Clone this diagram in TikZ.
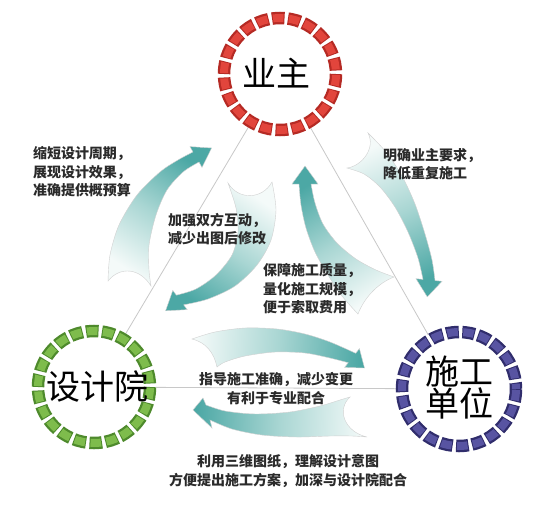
\documentclass[tikz,border=0pt]{standalone}
\usepackage{fontspec}
\newfontfamily\cjk{Noto Sans CJK SC}
\definecolor{reddark}{HTML}{B52A24}
\definecolor{redmain}{HTML}{E2453C}
\definecolor{grndark}{HTML}{4E8A2C}
\definecolor{grnmain}{HTML}{7EBC4C}
\definecolor{navdark}{HTML}{302D6C}
\definecolor{navmain}{HTML}{5854A2}
\definecolor{tailc}{HTML}{F4FAF9}
\definecolor{midc}{HTML}{A9D6D3}
\definecolor{headc}{HTML}{4CA8A5}
\definecolor{linec}{HTML}{C8C8C8}
\definecolor{txtc}{HTML}{2A2A2A}
\tikzset{
  swoosh/.style={top color=tailc, bottom color=headc, middle color=midc, draw=black!18, line width=0.4},
  linkline/.style={draw=linec, line width=0.8},
  hub/.style={circle, fill=white, minimum size=124pt, inner sep=0pt},
  ringout/.style={line width=12.5, dash pattern=on 12.5 off 3.49},
  ringin/.style={line width=8, dash pattern=on 10.5 off 5.49, dash phase=14.99},
  biglbl/.style={font=\fontsize{34}{32}\selectfont\cjk, text=black, align=center, inner sep=0pt},
  lbl/.style={font=\fontsize{14}{18.5}\selectfont\cjk\bfseries, text=txtc, inner sep=0pt},
}
\begin{document}
\begin{tikzpicture}[x=1pt,y=-1pt]
\fill[white] (0,0) rectangle (560,504);
\useasboundingbox (0,0) rectangle (560,504);
\coordinate (cY) at (280,74);
\coordinate (cS) at (94,387);
\coordinate (cG) at (459,389);

% arrows
% A: design -> owner (left outer)
\path[swoosh, shading angle=147]
  plot[smooth] coordinates {(108,281) (110,255) (119,225) (137,195) (160,172) (178,160) (193,152)}
  -- (190,146.6) -- (211.6,148) -- (202,167.4)
  -- plot[smooth] coordinates {(199,162) (183,172) (167,190) (156,215) (149,245) (149,270) (151,286)}
  .. controls (140,268) and (120,266) .. (108,281) -- cycle;
% B: owner -> design (left inner)
\path[swoosh, shading angle=326]
  plot[smooth] coordinates {(228,183) (236,208) (238,232) (232,255) (216,275) (196,289) (176.4,295.2)}
  -- (172.8,290.4) -- (165.6,310.8) -- (187.2,309.6)
  -- plot[smooth] coordinates {(183.6,304.8) (208,299) (235,286) (257,265) (271,240) (276,210) (272,182)}
  .. controls (262,200) and (238,200) .. (228,183) -- cycle;
% C: owner -> contractor (right outer)
\path[swoosh, shading angle=25]
  plot[smooth] coordinates {(368,133) (386,152) (402,176) (415,204) (425,234) (432,260) (435,280.6)}
  -- (442,281.3) -- (427.3,296.9) -- (416,278.7)
  -- plot[smooth] coordinates {(423,279.4) (418,258) (408,232) (395,207) (380,187) (364,174) (347,168)}
  .. controls (362,166) and (376,148) .. (368,133) -- cycle;
% D: contractor -> owner (right inner)
\path[swoosh, shading angle=211]
  plot[smooth] coordinates {(358,314) (342,296) (328,275) (315,252) (306,228) (301,205) (299,184)}
  -- (292,184) -- (305,166) -- (318,184)
  -- plot[smooth] coordinates {(311,184) (315,203) (323,224) (337,243) (356,259) (376,270) (394,277)}
  .. controls (378,283) and (364,298) .. (358,314) -- cycle;
% E: design -> contractor (bottom upper)
\path[swoosh, shading angle=87]
  plot[smooth] coordinates {(192,339) (215,332) (245,328) (277,329) (305,334) (330,342) (355.7,353.3)}
  -- (359.4,348.6) -- (364.5,368) -- (344.6,367.4)
  -- plot[smooth] coordinates {(348.3,362.7) (330,358) (305,353) (275,352) (245,356) (225,362) (217,367)}
  .. controls (214,352) and (205,342) .. (192,339) -- cycle;
% F: contractor -> design (bottom lower)
\path[swoosh, shading angle=268]
  (193,410) -- (203,398)
  -- plot[smooth] coordinates {(206,405) (225,411) (255,414) (290,412) (320,406) (340,400) (350,397)}
  .. controls (336,410) and (345,432) .. (367,437)
  -- plot[smooth] coordinates {(367,437) (352,436) (330,436) (297,437) (262,435) (232,429) (210,420)}
  -- (212,428) -- cycle;

% link lines
\draw[linkline] (cY) -- (cS);
\draw[linkline] (cY) -- (cG);
\draw[linkline] (cS) -- (cG);

% hubs
\node[hub] (yz) at (cY) {};
\node[hub] (sj) at (cS) {};
\node[hub] (sg) at (cG) {};
\draw[ringout, reddark] (yz.center) circle[radius=56];
\draw[ringin, redmain] (yz.center) circle[radius=56];
\draw[ringout, grndark] (sj.center) circle[radius=56];
\draw[ringin, grnmain] (sj.center) circle[radius=56];
\draw[ringout, navdark] (sg.center) circle[radius=57];
\draw[ringin, navmain] (sg.center) circle[radius=57];

\node[biglbl] (tY) at (276,73) {业主};
\node[biglbl] (tS) at (97,386) {设计院};
\node[biglbl] (tG) at (459,388) {施工\\单位};

% labels
\node[lbl, align=center] (l1) at (82,172) {缩短设计周期，\\展现设计效果，\\准确提供概预算};
\node[lbl, align=left, anchor=west] (l2) at (168,229) {加强双方互动，\\减少出图后修改};
\node[lbl, align=left, anchor=west] (l3) at (383,164) {明确业主要求，\\降低重复施工};
\node[lbl, align=left, anchor=west] (l4) at (263,289) {保障施工质量，\\量化施工规模，\\便于索取费用};
\node[lbl, align=center] (l5) at (276,388.5) {指导施工准确，减少变更\\有利于专业配合};
\node[lbl, align=center] (l6) at (288,471) {利用三维图纸，理解设计意图\\方便提出施工方案，加深与设计院配合};
\end{tikzpicture}
\end{document}
